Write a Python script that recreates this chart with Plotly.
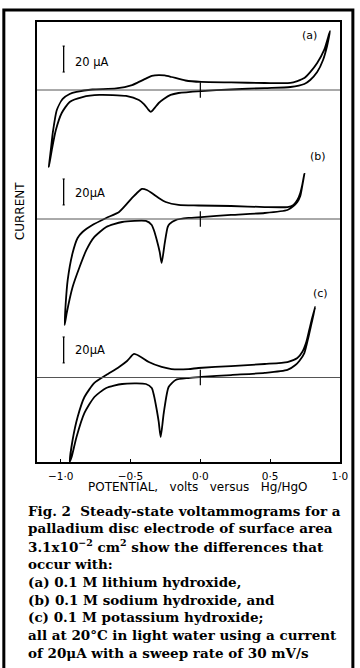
import plotly.graph_objects as go

# ---------------- data (potential V vs Hg/HgO, current uA) ----------------
a_up_v = [-1.085, -1.071, -1.057, -1.028, -0.986, -0.936, -0.887, -0.773, -0.603, -0.489,
          -0.440, -0.390, -0.348, -0.298, -0.255, -0.206, -0.106, 0.007, 0.220, 0.461,
          0.645, 0.695, 0.745, 0.787, 0.837, 0.887, 0.929]
a_up_i = [-59.2, -46.0, -33.0, -15.4, -6.9, -3.1, -1.5, 0.4, 1.2, 3.8,
          6.2, 8.8, 10.8, 11.5, 11.2, 10.0, 7.3, 6.2, 5.8, 5.4,
          5.4, 6.9, 9.2, 13.8, 20.8, 30.8, 45.4]
a_dn_v = [0.929, 0.908, 0.879, 0.837, 0.787, 0.745, 0.645, 0.461, 0.220, 0.007,
          -0.156, -0.213, -0.262, -0.298, -0.333, -0.355, -0.376, -0.404, -0.440, -0.532,
          -0.723, -0.844, -0.936, -0.993, -1.035, -1.064, -1.085]
a_dn_i = [45.4, 33.8, 23.1, 13.8, 7.7, 4.6, 2.3, 1.5, 0.4, -0.8,
          -2.3, -3.8, -6.9, -10.0, -14.6, -16.9, -14.6, -10.8, -7.7, -4.6,
          -3.8, -5.4, -9.2, -17.7, -30.8, -46.2, -59.2]

b_up_v = [-0.972, -0.965, -0.950, -0.915, -0.879, -0.844, -0.773, -0.674, -0.582, -0.489,
          -0.454, -0.418, -0.383, -0.348, -0.298, -0.248, -0.156, -0.014, 0.220, 0.461,
          0.624, 0.667, 0.695, 0.716, 0.730, 0.745]
b_up_i = [-81.5, -66.0, -46.9, -26.2, -14.6, -10.0, -4.6, 0.8, 5.4, 16.2,
          20.0, 23.1, 22.3, 20.0, 16.2, 13.1, 10.8, 10.4, 10.0, 9.2,
          9.2, 10.8, 14.6, 20.0, 26.2, 34.6]
b_dn_v = [0.745, 0.730, 0.716, 0.695, 0.667, 0.624, 0.461, 0.220, 0.007, -0.085,
          -0.177, -0.220, -0.234, -0.255, -0.277, -0.291, -0.312, -0.333, -0.348, -0.390,
          -0.560, -0.674, -0.759, -0.816, -0.865, -0.915, -0.957, -0.972]
b_dn_i = [34.6, 25.4, 17.7, 13.1, 10.0, 6.9, 4.6, 3.1, 1.5, 0.8,
          -0.8, -3.8, -6.2, -18.5, -33.8, -25.4, -16.2, -8.5, -4.6, -1.5,
          -2.3, -6.2, -13.8, -23.8, -36.9, -52.3, -72.3, -81.5]

c_up_v = [-0.936, -0.915, -0.879, -0.830, -0.759, -0.674, -0.582, -0.525, -0.475, -0.426,
          -0.369, -0.277, -0.206, -0.085, -0.014, 0.220, 0.461, 0.624, 0.695, 0.730,
          0.759, 0.780, 0.801, 0.823]
c_up_i = [-65.0, -48.1, -30.4, -15.0, -4.2, 1.9, 8.1, 12.7, 18.1, 15.8,
          11.9, 8.1, 6.5, 6.5, 7.3, 8.8, 10.4, 11.9, 15.0, 19.6,
          27.3, 36.5, 45.8, 54.2]
c_dn_v = [0.823, 0.794, 0.773, 0.745, 0.709, 0.681, 0.624, 0.461, 0.220, 0.007,
          -0.085, -0.177, -0.227, -0.262, -0.284, -0.298, -0.312, -0.333, -0.348, -0.390,
          -0.560, -0.674, -0.759, -0.830, -0.887, -0.922, -0.936]
c_dn_i = [54.2, 40.4, 30.4, 18.8, 12.7, 9.6, 5.8, 3.5, 1.9, 0.4,
          -0.4, -1.9, -7.3, -27.3, -45.8, -34.2, -25.0, -13.5, -8.1, -5.0,
          -5.0, -8.1, -15.0, -27.3, -45.8, -61.2, -65.0]

tick_vals = [-1.0, -0.5, 0.0, 0.5, 1.0]
tick_text = ["\u22121\u00b70", "\u22120\u00b75", "0\u00b70", "0\u00b75", "1\u00b70"]
panel_labels = ["(a)", "(b)", "(c)"]
scale_labels = ["20 \u03bcA", "20\u03bcA", "20\u03bcA"]
scale_uA = 20

caption = [
    "Fig. 2\u00a0 Steady-state voltammograms for a",
    "palladium disc electrode of surface area",
    "3.1x10<sup>\u22122</sup> cm<sup>2</sup> show the differences that",
    "occur with:",
    "(a) 0.1 M lithium hydroxide,",
    "(b) 0.1 M sodium hydroxide, and",
    "(c) 0.1 M potassium hydroxide;",
    "all at 20\u00b0C in light water using a current",
    "of 20\u03bcA with a sweep rate of 30 mV/s",
]

# ---------------- layout geometry ----------------
W, H = 360, 668
L, R, T, B = 37, 343, 22, 462          # plot area in pixels
PX_PER_UA = 1.3
Y_MAX = (B - T) / PX_PER_UA
offsets = [(B - 90) / PX_PER_UA, (B - 219) / PX_PER_UA, (B - 377.5) / PX_PER_UA]
scale_base = [13.8, 10.8, 11.2]
label_y = [21.5, 20.0, 21.0]
panel_lab_pos = [(312, 35), (321, 156), (323, 293)]


def pxx(p):
    return (p - L) / (R - L)


def pxy(p):
    return (B - p) / (B - T)


fig = go.Figure()
loops = [(a_up_v, a_up_i, a_dn_v, a_dn_i), (b_up_v, b_up_i, b_dn_v, b_dn_i),
         (c_up_v, c_up_i, c_dn_v, c_dn_i)]
shapes = []
annotations = []
for k, (uv, ui, dv, di) in enumerate(loops):
    off = offsets[k]
    xs = uv + dv[1:]
    ys = [off + v for v in ui + di[1:]]
    # zero line
    shapes.append(dict(type="line", xref="paper", yref="y", x0=0, x1=1, y0=off, y1=off,
                       line=dict(color="#555555", width=1)))
    # zero tick at 0 V
    shapes.append(dict(type="line", xref="x", yref="y", x0=0, x1=0, y0=off - 6, y1=off + 6,
                       line=dict(color="black", width=1.2)))
    fig.add_trace(go.Scatter(x=xs, y=ys, mode="lines", showlegend=False, hoverinfo="skip",
                             line=dict(color="black", width=1.8, shape="spline", smoothing=0.6)))
    # scale bar
    sb0 = off + scale_base[k]
    sb1 = sb0 + scale_uA
    xb = -0.979
    shapes.append(dict(type="line", xref="x", yref="y", x0=xb, x1=xb, y0=sb0, y1=sb1,
                       line=dict(color="black", width=1.3)))
    for yy in (sb0, sb1):
        shapes.append(dict(type="line", xref="x", yref="y", x0=xb - 0.008, x1=xb + 0.008,
                           y0=yy, y1=yy, line=dict(color="black", width=1)))
    annotations.append(dict(x=-0.915, y=off + label_y[k], xref="x", yref="y",
                            text=scale_labels[k], showarrow=False, xanchor="left",
                            yanchor="middle",
                            font=dict(family="DejaVu Sans", size=11.5, color="black")))
    lx, ly = panel_lab_pos[k]
    annotations.append(dict(x=pxx(lx), y=pxy(ly), xref="paper", yref="paper",
                            text=panel_labels[k], showarrow=False, xanchor="center",
                            yanchor="middle",
                            font=dict(family="DejaVu Sans", size=11, color="black")))

# outer frame
shapes.append(dict(type="rect", xref="paper", yref="paper", x0=pxx(3.5), x1=pxx(356),
                   y0=pxy(10), y1=pxy(680), line=dict(color="black", width=3)))

annotations.append(dict(x=pxx(20), y=pxy(211), xref="paper", yref="paper", text="CURRENT",
                        textangle=-90, showarrow=False, xanchor="center", yanchor="middle",
                        font=dict(family="DejaVu Sans", size=12, color="black")))
annotations.append(dict(x=pxx(200), y=pxy(487), xref="paper", yref="paper",
                        text="POTENTIAL,\u00a0\u00a0 volts\u00a0\u00a0 versus\u00a0\u00a0 Hg/HgO",
                        showarrow=False, xanchor="center", yanchor="middle",
                        font=dict(family="DejaVu Sans", size=12, color="black")))
for i, line in enumerate(caption):
    annotations.append(dict(x=pxx(26), y=pxy(510.5 + 17.8 * i), xref="paper", yref="paper",
                            text=line, showarrow=False, xanchor="left", yanchor="middle",
                            font=dict(family="DejaVu Serif", size=13.5, color="black",
                                      weight="bold")))

fig.update_layout(
    width=W, height=H,
    margin=dict(l=L, r=W - R, t=T, b=H - B, pad=0),
    paper_bgcolor="white", plot_bgcolor="white",
    shapes=shapes, annotations=annotations,
    xaxis=dict(range=[-1.17, 1.0005], tickvals=tick_vals, ticktext=tick_text,
               ticks="inside", ticklen=3, tickwidth=1.2, tickcolor="black",
               ticklabelstandoff=3,
               showline=True, linecolor="black", linewidth=1.8, mirror=True,
               showgrid=False, zeroline=False,
               tickfont=dict(family="DejaVu Sans", size=10.5, color="black")),
    yaxis=dict(range=[0, Y_MAX], showticklabels=False, ticks="",
               showline=True, linecolor="black", linewidth=1.8, mirror=True,
               showgrid=False, zeroline=False),
)

fig.write_html("out.html")
